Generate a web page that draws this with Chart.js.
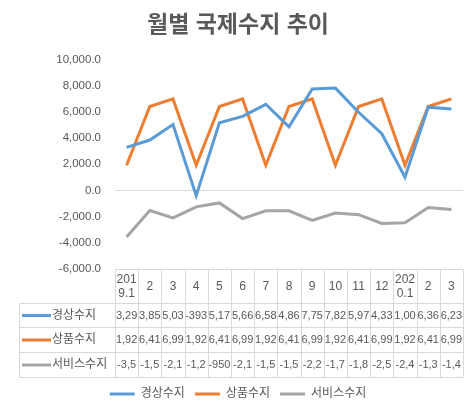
<!DOCTYPE html>
<html>
<head>
<meta charset="utf-8">
<script src="https://cdn.jsdelivr.net/npm/chart.js@4"></script>
<style>
  body { margin: 0; background: #fff; }
</style>
</head>
<body>
<canvas id="chart" width="476" height="410"></canvas>
<script>
// data
var categories = ['2019.1', '2', '3', '4', '5', '6', '7', '8', '9', '10', '11', '12', '2020.1', '2', '3']
var seriesNames = ['경상수지', '상품수지', '서비스수지']
var currentAccount = [3293, 3856, 5035, -393, 5177, 5665, 6585, 4866, 7752, 7822, 5974, 4336, 1006, 6366, 6230]
var goodsBalance = [1923, 6414, 6995, 1923, 6414, 6995, 1923, 6414, 6995, 1923, 6414, 6995, 1923, 6414, 6995]
var serviceBalance = [-3550, -1530, -2100, -1250, -950, -2150, -1550, -1550, -2290, -1720, -1850, -2520, -2470, -1300, -1450]
var yTicks = [-6000, -4000, -2000, 0, 2000, 4000, 6000, 8000, 10000]
var colors = ['#5B9BD5', '#ED7D31', '#A5A5A5']

var textColor = '#595959'
var lineGray = '#d9d9d9'
Chart.defaults.font.family = '"Liberation Sans", "Noto Sans CJK KR", sans-serif'
Chart.defaults.color = textColor

function fmt(v) {
    return v.toLocaleString('en-US', {minimumFractionDigits: 1, maximumFractionDigits: 1})
}

// cut text like excel does when the cell is too narrow
function clip(ctx, t, maxW) {
    while (t.length > 1 && ctx.measureText(t).width > maxW) t = t.slice(0, -1)
    return t.replace(/[.,]$/, '')
}

function wrap(ctx, t, maxW) {
    if (ctx.measureText(t).width <= maxW) return [t]
    var lines = [], cur = ''
    for (var c of t) {
        if (ctx.measureText(cur + c).width > maxW && cur) { lines.push(cur); cur = c }
        else cur += c
    }
    lines.push(cur)
    return lines
}

var dataTable = {
    id: 'dataTable',
    afterDraw: function (chart) {
        var ctx = chart.ctx, area = chart.chartArea, x = chart.scales.x
        var n = categories.length
        var w = (area.right - area.left) / n
        var top = Math.round(area.bottom) + 0.5
        var rows = [top, top + 34, top + 58, top + 83, top + 108]
        var left = 19.5
        ctx.save()
        ctx.fillStyle = textColor
        ctx.font = '12px ' + Chart.defaults.font.family
        ctx.textAlign = 'center'
        ctx.textBaseline = 'middle'
        categories.forEach(function (c, i) {
            var cx = x.getPixelForValue(i)
            var lines = wrap(ctx, c, w + 1)
            var cy = (rows[0] + rows[1]) / 2 - (lines.length - 1) * 7
            lines.forEach(function (l, k) { ctx.fillText(l, cx, cy + k * 14) })
        })

        chart.data.datasets.forEach(function (ds, r) {
            var cy = (rows[r + 1] + rows[r + 2]) / 2
            ctx.strokeStyle = ds.borderColor
            ctx.lineWidth = 3
            ctx.beginPath()
            ctx.moveTo(22, cy); ctx.lineTo(51, cy)
            ctx.stroke()
            ctx.font = '12px ' + Chart.defaults.font.family
            ctx.textAlign = 'left'
            ctx.fillText(ds.label, 52, cy)
            ctx.textAlign = 'center'
            ctx.font = '11px ' + Chart.defaults.font.family
            ds.data.forEach(function (v, i) {
                ctx.fillText(clip(ctx, fmt(v), w - 1), x.getPixelForValue(i), cy)
            })
        })

        // grid of the table, drawn over the text like excel's cell borders
        ctx.strokeStyle = lineGray
        ctx.lineWidth = 1
        ctx.beginPath()
        ctx.moveTo(area.left, rows[0]); ctx.lineTo(area.right, rows[0])
        for (var r = 1; r < rows.length; r++) {
            ctx.moveTo(left, rows[r]); ctx.lineTo(area.right, rows[r])
        }
        for (var i = 0; i <= n; i++) {
            var xb = Math.round(area.left + i * w) + 0.5
            ctx.moveTo(xb, rows[0]); ctx.lineTo(xb, rows[4])
        }
        ctx.moveTo(left, rows[1]); ctx.lineTo(left, rows[4])
        ctx.stroke()
        ctx.restore()
    }
}

function mk(label, data, color) {
    return {label: label, data: data, borderColor: color, backgroundColor: color,
        borderWidth: 3, pointRadius: 0, tension: 0, fill: false}
}

var chart = new Chart(document.getElementById('chart'), {
    type: 'line',
    data: {
        labels: categories,
        datasets: [
            mk(seriesNames[0], currentAccount, colors[0]),
            mk(seriesNames[1], goodsBalance, colors[1]),
            mk(seriesNames[2], serviceBalance, colors[2])
        ]
    },
    options: {
        responsive: false,
        animation: false,
        layout: {padding: 0},
        plugins: {
            title: {
                display: true,
                text: '월별 국제수지 추이',
                color: textColor,
                font: {size: 23, weight: 'bold'},
                padding: {top: 12, bottom: 20}
            },
            legend: {
                position: 'bottom',
                labels: {
                    color: textColor,
                    font: {size: 12},
                    boxWidth: 25,
                    boxHeight: 3,
                    padding: 10,
                    generateLabels: function (chart) {
                        return chart.data.datasets.map(function (ds, i) {
                            return {text: ds.label, fillStyle: ds.borderColor, strokeStyle: ds.borderColor,
                                lineWidth: 0, fontColor: textColor, datasetIndex: i}
                        })
                    }
                }
            },
            tooltip: {enabled: false}
        },
        scales: {
            x: {
                offset: true,
                grid: {display: false},
                border: {display: false},
                ticks: {display: false},
                afterFit: function (s) { s.height = 109 }
            },
            y: {
                min: -6000,
                max: 10000,
                afterBuildTicks: function (s) { s.ticks = yTicks.map(function (v) { return {value: v} }) },
                grid: {
                    drawTicks: false,
                    color: function (c) { return c.tick && c.tick.value === 0 ? lineGray : 'rgba(0,0,0,0)' }
                },
                border: {display: false},
                ticks: {color: textColor, font: {size: 11.5}, padding: 14, callback: function (v) { return fmt(v) }},
                afterFit: function (s) { s.width = 115 }
            },
            // empty strip on the right so the title stays centred on the whole picture
            gap: {
                type: 'linear',
                position: 'right',
                grid: {display: false},
                border: {display: false},
                ticks: {display: false},
                afterFit: function (s) { s.width = 13 }
            }
        }
    },
    plugins: [dataTable]
})
</script>
</body>
</html>
